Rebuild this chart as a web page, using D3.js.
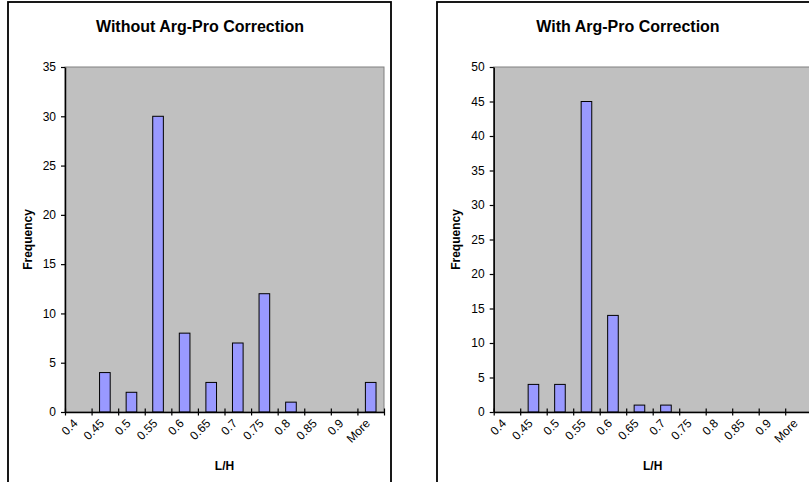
<!DOCTYPE html>
<html>
<head>
<meta charset="utf-8">
<script src="https://cdn.jsdelivr.net/npm/d3@7"></script>
<style>
  html, body { margin: 0; padding: 0; background: #fff; }
  svg { display: block; }
  text { font-family: Arial, "Liberation Sans", sans-serif; fill: #000; }
</style>
</head>
<body>
<svg id="chart" width="809" height="482"></svg>
<script>
// ---- Data ----
const categories = ["0.4", "0.45", "0.5", "0.55", "0.6", "0.65", "0.7", "0.75", "0.8", "0.85", "0.9", "More"];
const withoutValues = [0, 4, 2, 30, 8, 3, 7, 12, 1, 0, 0, 3];
const withValues = [0, 4, 4, 45, 14, 1, 1, 0, 0, 0, 0, 0];
const withoutYTicks = [0, 5, 10, 15, 20, 25, 30, 35];
const withYTicks = [0, 5, 10, 15, 20, 25, 30, 35, 40, 45, 50];
const titles = ["Without Arg-Pro Correction", "With Arg-Pro Correction"];
const xTitle = "L/H";
const yTitle = "Frequency";

const svg = d3.select("#chart");
const FONT = "Arial, 'Liberation Sans', sans-serif";

function panel(cfg) {
  const g = svg.append("g");
  // frame
  g.append("rect")
    .attr("x", cfg.frame[0]).attr("y", cfg.frame[1])
    .attr("width", cfg.frame[2]).attr("height", cfg.frame[3])
    .attr("fill", "#fff").attr("stroke", "#000").attr("stroke-width", 1.8);

  const x = d3.scaleBand().domain(cfg.categories)
    .range([cfg.x0, cfg.x1]).paddingInner(0.6).paddingOuter(0.3);
  const xb = d3.scaleLinear().domain([0, cfg.categories.length]).range([cfg.x0, cfg.x1]);
  const y = d3.scaleLinear().domain([0, cfg.ymax]).range([cfg.y1, cfg.y0]);

  // plot area
  g.append("rect")
    .attr("x", cfg.x0).attr("y", cfg.y0)
    .attr("width", cfg.x1 - cfg.x0).attr("height", cfg.y1 - cfg.y0)
    .attr("fill", "#c0c0c0").attr("stroke", "#808080").attr("stroke-width", 1);

  // bars
  g.selectAll("rect.bar")
    .data(cfg.values.map((v, i) => ({c: cfg.categories[i], v})).filter(d => d.v > 0))
    .enter().append("rect").attr("class", "bar")
    .attr("x", d => x(d.c)).attr("width", x.bandwidth())
    .attr("y", d => y(d.v)).attr("height", d => y(0) - y(d.v))
    .attr("fill", "#9999ff").attr("stroke", "#000").attr("stroke-width", 1);

  // y axis
  const ya = g.append("g").attr("transform", `translate(${cfg.x0},0)`)
    .call(d3.axisLeft(y).tickValues(cfg.yticks).tickSize(4).tickPadding(5).tickSizeOuter(0));
  ya.attr("font-size", 12).attr("font-family", FONT);
  ya.select(".domain").attr("stroke", "#000").attr("stroke-width", 1.5);
  ya.selectAll(".tick line").attr("stroke", "#000").attr("stroke-width", 1.2);
  ya.selectAll(".tick text").attr("fill", "#000");

  // x axis (ticks at band boundaries, crossing)
  const xa = g.append("g").attr("transform", `translate(0,${cfg.y1})`)
    .call(d3.axisBottom(xb).tickValues(d3.range(cfg.categories.length + 1)).tickFormat("").tickSize(3.5).tickSizeOuter(0));
  xa.select(".domain").attr("stroke", "#000").attr("stroke-width", 1.5);
  xa.selectAll(".tick line").attr("y1", -3.5).attr("stroke", "#000").attr("stroke-width", 1.2);

  // x tick labels (rotated)
  g.selectAll("text.xl").data(cfg.categories).enter().append("text").attr("class", "xl")
    .attr("transform", d => `translate(${x(d) + x.bandwidth() / 2 - 6},${cfg.y1 + 6}) rotate(-45)`)
    .attr("text-anchor", "end").attr("dy", "0.72em")
    .attr("font-size", 12).text(d => d);

  // titles
  g.append("text").attr("x", cfg.titleX).attr("y", 32).attr("text-anchor", "middle")
    .attr("font-size", 16).attr("font-weight", "bold").text(cfg.title);
  g.append("text").attr("transform", `translate(${cfg.yTitleX},${(cfg.y0 + cfg.y1) / 2}) rotate(-90)`)
    .attr("text-anchor", "middle").attr("font-size", 12).attr("font-weight", "bold").text(yTitle);
  g.append("text").attr("x", (cfg.x0 + cfg.x1) / 2).attr("y", 470).attr("text-anchor", "middle")
    .attr("font-size", 12).attr("font-weight", "bold").text(xTitle);
}

panel({
  frame: [8, 2, 383, 500], x0: 65, x1: 384, y0: 67, y1: 412, ymax: 35,
  categories, values: withoutValues, yticks: withoutYTicks,
  title: titles[0], titleX: 200, yTitleX: 32
});
panel({
  frame: [437, 2, 400, 500], x0: 493.7, x1: 811.7, y0: 67, y1: 412, ymax: 50,
  categories, values: withValues, yticks: withYTicks,
  title: titles[1], titleX: 628, yTitleX: 460
});
</script>
</body>
</html>
